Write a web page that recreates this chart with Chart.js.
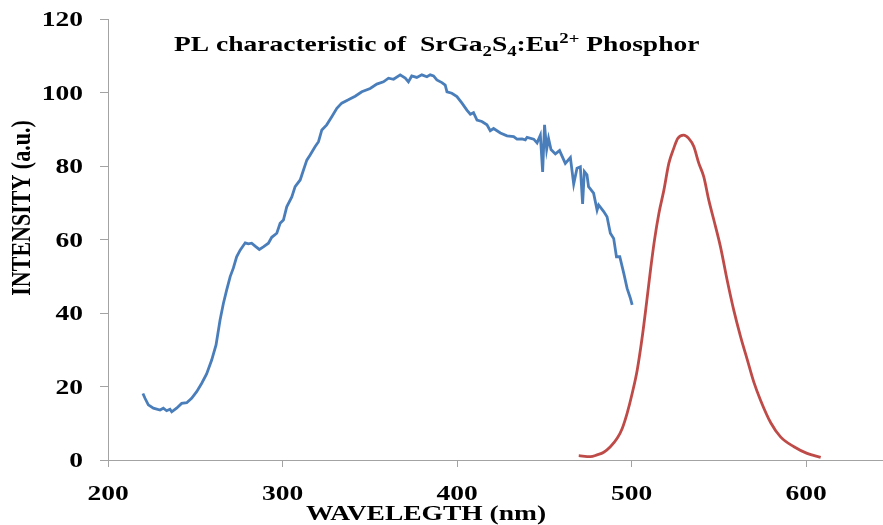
<!DOCTYPE html>
<html>
<head>
<meta charset="utf-8">
<title>PL characteristic of SrGa2S4:Eu2+ Phosphor</title>
<script src="https://cdn.jsdelivr.net/npm/chart.js@4.4.1/dist/chart.umd.min.js"></script>
<style>
  html, body { margin: 0; padding: 0; background: #fff; }
  canvas { display: block; }
</style>
</head>
<body>
<canvas id="plChart" width="883" height="525"></canvas>
<script>
// Excitation spectrum (blue)
const blueWavelength = [220.0, 221.2, 223.1, 226.0, 229.8, 231.7, 233.6, 235.5, 236.5, 239.3, 242.2, 245.1, 247.9, 250.8, 253.7, 256.5, 259.4, 261.9, 264.2, 266.1, 268.0, 270.0, 271.8, 273.7, 275.7, 278.6, 280.4, 282.3, 284.3, 286.7, 289.0, 291.9, 293.8, 296.7, 298.6, 300.5, 302.4, 305.3, 307.2, 310.1, 312.0, 313.9, 315.8, 318.7, 320.6, 322.5, 325.3, 328.2, 331.1, 333.9, 337.7, 341.6, 345.4, 350.2, 354.0, 357.8, 360.7, 363.6, 367.4, 370.3, 372.1, 374.0, 376.9, 379.8, 382.7, 384.6, 386.5, 388.4, 391.3, 393.2, 394.2, 397.0, 399.9, 402.8, 405.6, 407.6, 409.4, 411.4, 414.2, 417.1, 419.0, 420.9, 424.8, 428.6, 432.4, 434.3, 437.2, 439.1, 440.1, 443.9, 445.8, 447.7, 449.0, 450.1, 451.3, 452.4, 453.8, 456.3, 458.7, 462.0, 464.9, 466.8, 468.7, 470.6, 471.9, 472.9, 474.4, 475.3, 478.2, 480.2, 481.1, 484.0, 485.9, 487.8, 489.7, 491.3, 493.2, 495.5, 497.4, 499.3, 500.3];
const blueIntensity = [18.1, 16.8, 15.0, 14.1, 13.6, 14.1, 13.4, 13.8, 13.1, 14.1, 15.4, 15.6, 16.8, 18.6, 20.9, 23.4, 27.2, 31.3, 38.1, 42.6, 46.3, 49.9, 52.2, 55.3, 57.1, 59.1, 58.8, 59.0, 58.2, 57.3, 58.0, 59.0, 60.6, 61.7, 64.4, 65.3, 68.9, 71.6, 74.4, 76.2, 78.9, 81.6, 83.0, 85.3, 86.6, 89.8, 91.2, 93.4, 95.7, 97.1, 98.0, 99.0, 100.2, 101.1, 102.3, 102.9, 103.9, 103.6, 104.8, 103.9, 102.9, 104.5, 104.1, 104.8, 104.3, 104.8, 104.5, 103.4, 102.7, 102.0, 100.2, 99.8, 98.9, 97.1, 95.2, 94.1, 94.5, 92.5, 92.1, 91.2, 89.6, 90.2, 89.0, 88.2, 88.0, 87.3, 87.4, 87.1, 87.8, 87.3, 86.3, 88.4, 78.4, 91.2, 84.5, 87.5, 84.5, 83.3, 84.2, 80.7, 82.3, 75.1, 79.4, 79.8, 69.7, 78.5, 77.6, 74.4, 72.6, 68.0, 69.4, 67.6, 66.2, 61.7, 60.3, 55.3, 55.3, 50.8, 46.7, 44.0, 42.2];

// Emission spectrum (red)
const redWavelength = [469.7, 476.4, 480.2, 484.0, 487.8, 491.7, 494.6, 497.4, 500.3, 503.2, 506.1, 508.5, 510.8, 513.1, 515.6, 518.5, 521.3, 524.1, 526.4, 529.8, 532.7, 535.6, 538.5, 541.3, 544.2, 547.1, 550.9, 554.7, 558.5, 562.4, 566.2, 570.0, 573.9, 579.6, 585.3, 593.0, 600.5, 608.3];
const redIntensity = [1.2, 0.9, 1.4, 2.1, 3.6, 5.9, 8.6, 12.7, 18.1, 24.5, 33.6, 42.6, 51.7, 59.9, 67.1, 73.5, 80.7, 84.8, 87.5, 88.4, 87.5, 85.3, 80.7, 77.1, 70.7, 65.3, 58.0, 49.0, 40.8, 33.6, 27.4, 21.2, 16.2, 10.2, 6.3, 3.6, 1.8, 0.7];

const xTicks = [200, 300, 400, 500, 600];
const yTicks = [0, 20, 40, 60, 80, 100, 120];

const FONT = 'Liberation Serif, Times New Roman, serif';
const STRETCH = 1.25; // the reference text looks widened horizontally
const AXIS_GREY = '#a3a3a3';

function toPoints(xs, ys) {
    return xs.map((x, i) => ({ x: x, y: ys[i] }));
}

// draw one piece of text, widened horizontally
function drawText(ctx, text, px, py, size, align, baseline) {
    ctx.save();
    ctx.translate(px, py);
    ctx.scale(STRETCH, 1);
    ctx.font = `bold ${size}px ${FONT}`;
    ctx.textAlign = align;
    ctx.textBaseline = baseline;
    ctx.fillText(text, 0, 0);
    ctx.restore();
}

// title with sub- and superscripts, drawn piece by piece
function drawTitle(ctx, left, baseline) {
    const parts = [
        { t: 'PL characteristic of  SrGa', size: 22, dy: 0 },
        { t: '2', size: 15, dy: 5 },
        { t: 'S', size: 22, dy: 0 },
        { t: '4', size: 15, dy: 5 },
        { t: ':Eu', size: 22, dy: 0 },
        { t: '2+', size: 15, dy: -8 },
        { t: ' Phosphor', size: 22, dy: 0 },
    ];
    let x = left;
    parts.forEach(p => {
        ctx.font = `bold ${p.size}px ${FONT}`;
        const w = ctx.measureText(p.t).width * STRETCH;
        drawText(ctx, p.t, x, baseline + p.dy, p.size, 'left', 'alphabetic');
        x += w;
    });
}

const textPlugin = {
    id: 'chartTexts',
    afterDraw(chart) {
        const ctx = chart.ctx;
        const xScale = chart.scales.x;
        const yScale = chart.scales.y;
        ctx.save();
        ctx.fillStyle = '#000';

        yTicks.forEach(v => drawText(ctx, String(v), 83, yScale.getPixelForValue(v) + 7, 22, 'right', 'alphabetic'));
        xTicks.forEach(v => drawText(ctx, String(v), xScale.getPixelForValue(v), 500, 22, 'center', 'alphabetic'));

        drawText(ctx, 'WAVELEGTH (nm)', 426, 520, 22, 'center', 'alphabetic');

        // y axis title, rotated
        ctx.save();
        ctx.translate(23, 208);
        ctx.scale(STRETCH, 1);
        ctx.rotate(-Math.PI / 2);
        ctx.font = `bold 22px ${FONT}`;
        ctx.textAlign = 'center';
        ctx.textBaseline = 'middle';
        ctx.fillText('INTENSITY (a.u.)', 0, 0);
        ctx.restore();

        drawTitle(ctx, 174, 51);
        ctx.restore();
    }
};

const ctxChart = document.getElementById('plChart');
const plChart = new Chart(ctxChart, {
    type: 'line',
    data: {
        datasets: [
            {
                label: 'Excitation',
                data: toPoints(blueWavelength, blueIntensity),
                borderColor: '#4a7ebb',
                borderWidth: 2.8,
                pointRadius: 0,
                tension: 0,
                fill: false,
            },
            {
                label: 'Emission',
                data: toPoints(redWavelength, redIntensity),
                borderColor: '#be4b48',
                borderWidth: 2.8,
                pointRadius: 0,
                cubicInterpolationMode: 'monotone',
                fill: false,
            }
        ]
    },
    plugins: [textPlugin],
    options: {
        responsive: false,
        animation: false,
        devicePixelRatio: 1,
        layout: {
            padding: { left: 0, right: 0, top: 19, bottom: 0 }
        },
        scales: {
            x: {
                type: 'linear',
                min: 200,
                max: 644,
                afterBuildTicks: axis => { axis.ticks = xTicks.map(v => ({ value: v })); },
                afterFit: axis => { axis.height = 65; },
                ticks: { display: false },
                grid: {
                    drawOnChartArea: false,
                    drawTicks: true,
                    tickLength: 7,
                    color: AXIS_GREY,
                },
                border: { color: AXIS_GREY, width: 1 },
            },
            y: {
                type: 'linear',
                min: 0,
                max: 120,
                afterBuildTicks: axis => { axis.ticks = yTicks.map(v => ({ value: v })); },
                afterFit: axis => { axis.width = 108; },
                ticks: { display: false },
                grid: {
                    drawOnChartArea: false,
                    drawTicks: true,
                    tickLength: 8,
                    color: AXIS_GREY,
                },
                border: { color: AXIS_GREY, width: 1 },
            }
        },
        plugins: {
            legend: { display: false },
            tooltip: { enabled: false },
        },
    },
});
</script>
</body>
</html>
